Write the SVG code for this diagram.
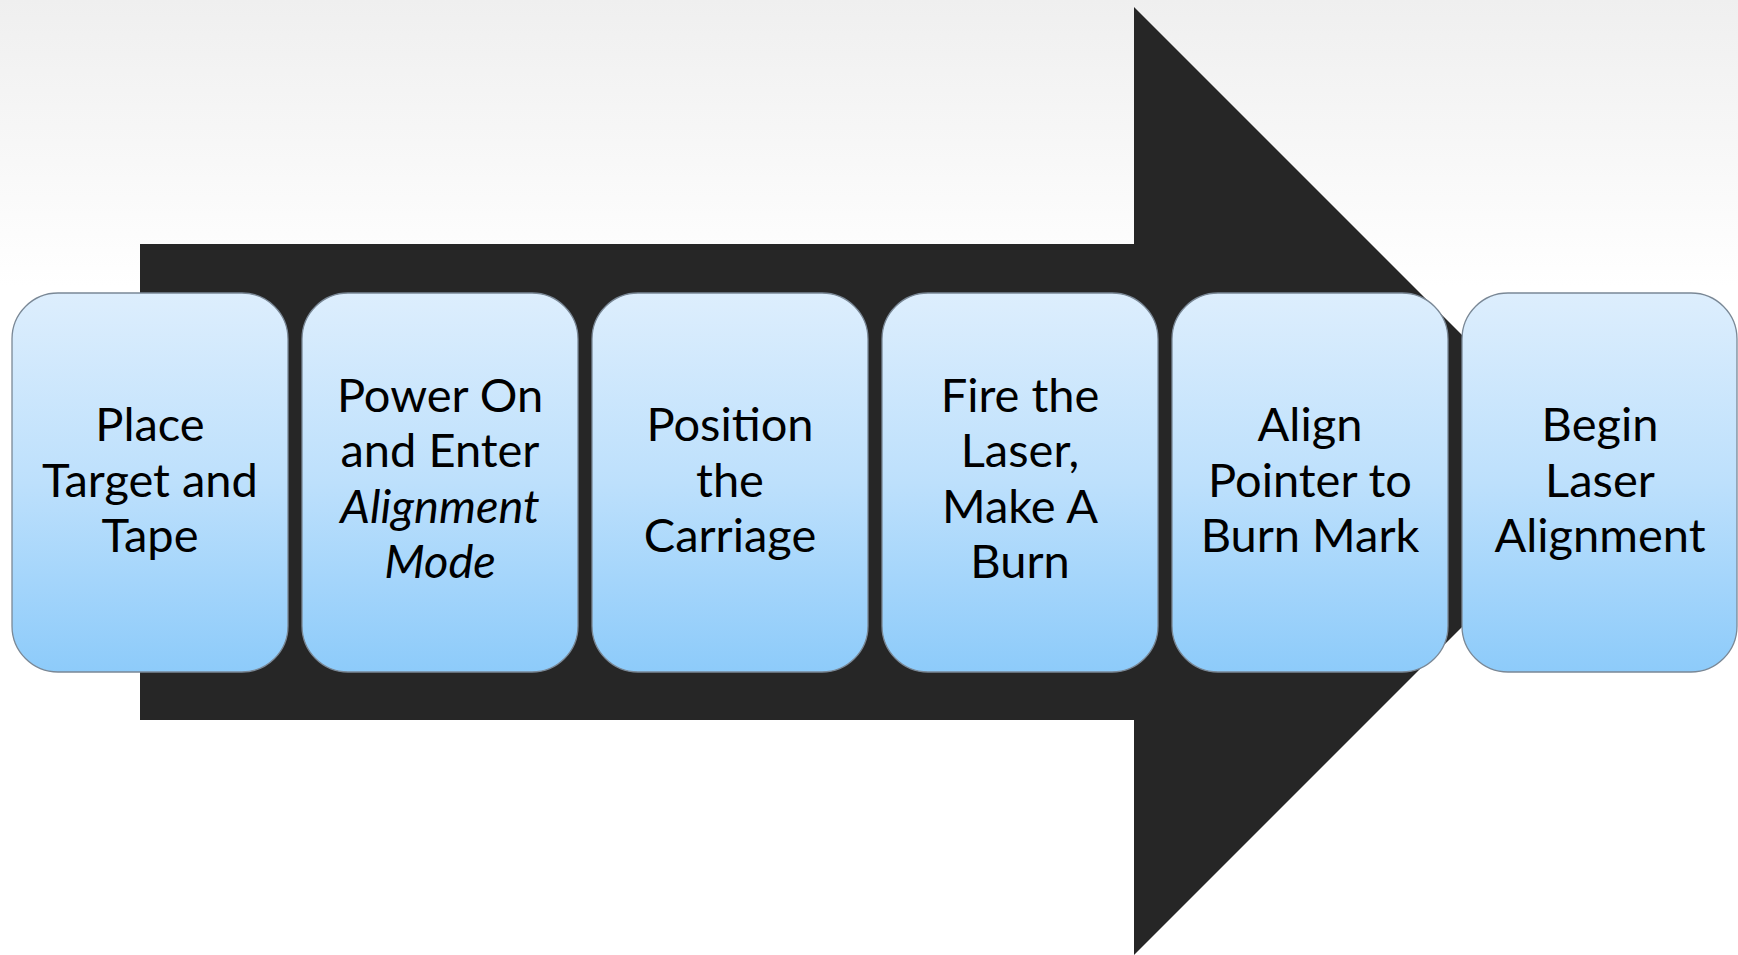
<svg xmlns="http://www.w3.org/2000/svg" width="1738" height="955" viewBox="0 0 1738 955">
<defs>
<linearGradient id="bg" x1="0" y1="0" x2="0" y2="1">
<stop offset="0" stop-color="#efefef"/>
<stop offset="0.3" stop-color="#ffffff"/>
<stop offset="1" stop-color="#ffffff"/>
</linearGradient>
<linearGradient id="boxfill" x1="0" y1="0" x2="0" y2="1">
<stop offset="0" stop-color="#ddeefd"/>
<stop offset="0.5" stop-color="#bde0fc"/>
<stop offset="1" stop-color="#8dcbfa"/>
</linearGradient>
<style>
.box{fill:url(#boxfill);stroke:#7a8896;stroke-width:1.3}
.lbl{font-family:Lato,"Open Sans","Liberation Sans",sans-serif;font-size:47px;fill:#000;text-anchor:middle}
.it{font-style:italic}
</style>
</defs>
<rect x="0" y="0" width="1738" height="955" fill="url(#bg)"/>
<g id="connectors">
<polygon points="140,244 1134,244 1134,7 1608,481 1134,955 1134,720 140,720" fill="#262626"/>
</g>
<g id="step1">
<rect class="box" x="12" y="293" width="276" height="379" rx="46" ry="46"/>
<text class="lbl" x="150" y="441">Place</text>
<text class="lbl" x="150" y="497">Target and</text>
<text class="lbl" x="150" y="552">Tape</text>
</g>
<g id="step2">
<rect class="box" x="302" y="293" width="276" height="379" rx="46" ry="46"/>
<text class="lbl" x="440" y="412">Power On</text>
<text class="lbl" x="440" y="467">and Enter</text>
<text class="lbl it" x="440" y="523">Alignment</text>
<text class="lbl it" x="440" y="578">Mode</text>
</g>
<g id="step3">
<rect class="box" x="592" y="293" width="276" height="379" rx="46" ry="46"/>
<text class="lbl" x="730" y="441">Position</text>
<text class="lbl" x="730" y="497">the</text>
<text class="lbl" x="730" y="552">Carriage</text>
</g>
<g id="step4">
<rect class="box" x="882" y="293" width="276" height="379" rx="46" ry="46"/>
<text class="lbl" x="1020" y="412">Fire the</text>
<text class="lbl" x="1020" y="467">Laser,</text>
<text class="lbl" x="1020" y="523">Make A</text>
<text class="lbl" x="1020" y="578">Burn</text>
</g>
<g id="step5">
<rect class="box" x="1172" y="293" width="276" height="379" rx="46" ry="46"/>
<text class="lbl" x="1310" y="441">Align</text>
<text class="lbl" x="1310" y="497">Pointer to</text>
<text class="lbl" x="1310" y="552">Burn Mark</text>
</g>
<g id="step6">
<rect class="box" x="1462" y="293" width="275" height="379" rx="46" ry="46"/>
<text class="lbl" x="1600" y="441">Begin</text>
<text class="lbl" x="1600" y="497">Laser</text>
<text class="lbl" x="1600" y="552">Alignment</text>
</g>
</svg>
